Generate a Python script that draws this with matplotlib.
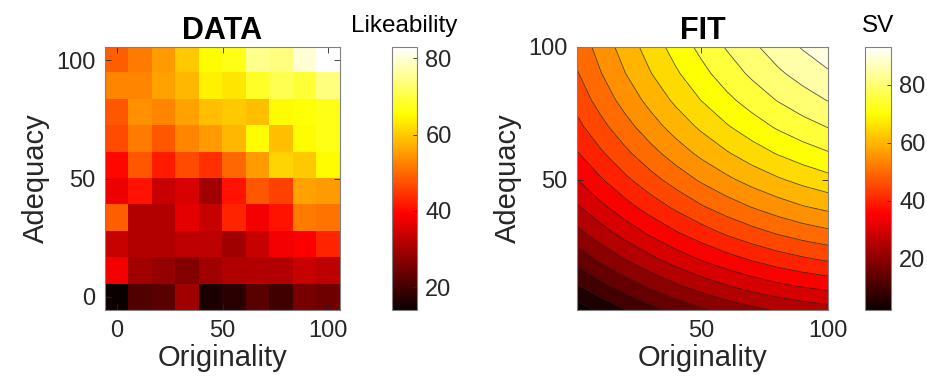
import numpy as np
import matplotlib
matplotlib.use("Agg")
import matplotlib.pyplot as plt
from matplotlib import colors as mcolors

plt.rcParams['font.family'] = ['Liberation Sans', 'DejaVu Sans']

# ---------------- DATA panel (binned behavioural ratings) ----------------
originality_centers = [0, 11.1, 22.2, 33.3, 44.4, 55.6, 66.7, 77.8, 88.9, 100]
adequacy_centers = [0, 11.1, 22.2, 33.3, 44.4, 55.6, 66.7, 77.8, 88.9, 100]
# rows: adequacy from 0 (bottom) to 100 (top); columns: originality 0 -> 100
likeability = [
    [14, 21.5, 22.5, 29.5, 16, 17.5, 22.5, 19.5, 25.5, 24.5],
    [38, 29.5, 28.5, 26.5, 29.5, 31.5, 31.5, 31.5, 33.5, 32.5],
    [33.5, 31.5, 31.5, 32.5, 32.5, 29.5, 33.5, 38, 39, 43],
    [49, 31.5, 31.5, 36.5, 33.5, 43, 38, 41, 52, 51],
    [37.5, 41, 33.5, 35.5, 29.5, 41, 48, 46, 56, 55],
    [40, 48, 42, 47, 44, 50, 55, 61, 60, 65],
    [47, 52, 48, 53, 55, 58, 65, 59, 65, 67],
    [48, 54, 53, 56, 59, 60, 59, 65, 66, 67],
    [53, 53, 56, 58, 64, 63, 68, 71, 69, 74],
    [49, 52, 55, 60, 65, 67, 75, 74, 80, 83],
]

# ---------------- FIT panel (model surface) ----------------
fit_originality = [1, 10, 20, 30, 40, 50, 60, 70, 80, 90, 100]
fit_adequacy = [1, 10, 20, 30, 40, 50, 60, 70, 80, 90, 100]
# rows: adequacy 1 -> 100; columns: originality 1 -> 100
sv = [
    [2.3, 6.0, 9.8, 13.3, 16.5, 19.2, 21.7, 23.8, 25.5, 26.9, 28.0],
    [9.5, 13.3, 17.3, 20.9, 24.2, 27.1, 29.7, 32.0, 33.9, 35.4, 36.6],
    [16.8, 20.8, 25.0, 28.7, 32.2, 35.3, 38.0, 40.4, 42.5, 44.2, 45.6],
    [23.5, 27.7, 31.9, 35.9, 39.5, 42.7, 45.7, 48.2, 50.4, 52.3, 53.8],
    [29.5, 33.8, 38.3, 42.4, 46.1, 49.6, 52.6, 55.3, 57.7, 59.8, 61.4],
    [34.9, 39.3, 43.9, 48.2, 52.1, 55.7, 58.9, 61.8, 64.3, 66.5, 68.4],
    [39.6, 44.1, 48.9, 53.3, 57.4, 61.2, 64.5, 67.6, 70.3, 72.6, 74.6],
    [43.6, 48.3, 53.2, 57.8, 62.1, 65.9, 69.5, 72.7, 75.6, 78.1, 80.2],
    [46.9, 51.8, 56.9, 61.6, 66.0, 70.1, 73.8, 77.1, 80.2, 82.8, 85.2],
    [49.6, 54.6, 59.9, 64.8, 69.3, 73.5, 77.4, 80.9, 84.1, 86.9, 89.4],
    [51.6, 56.8, 62.2, 67.2, 72.0, 76.3, 80.4, 84.0, 87.4, 90.4, 93.0],
]
contour_levels = [5, 10, 15, 20, 25, 30, 35, 40, 45, 50, 55, 60, 65, 70, 75, 80, 85, 90]

data_ticks = [0, 50, 100]
fit_ticks = [50, 100]
cbar_ticks = [20, 40, 60, 80]

TXT = '#262626'
W, H = 928, 390
fig = plt.figure(figsize=(W / 100, H / 100), dpi=100)


def frac(x0, y0, x1, y1):
    return [x0 / W, 1 - y1 / H, (x1 - x0) / W, (y1 - y0) / H]


cmap = plt.get_cmap('hot')
TICK_FS = 17
LABEL_FS = 21
TITLE_FS = 22

# ---- left heatmap ----
ax1 = fig.add_axes(frac(105, 47, 340, 310))
L = np.array(likeability)
oc = np.array(originality_centers)
ac = np.array(adequacy_centers)
hx = (oc[1] - oc[0]) / 2
hy = (ac[1] - ac[0]) / 2
im = ax1.imshow(L, cmap=cmap, origin='lower', aspect='auto', interpolation='nearest',
                extent=[oc[0] - hx, oc[-1] + hx, ac[0] - hy, ac[-1] + hy],
                vmin=L.min(), vmax=L.max())
ax1.set_xticks(data_ticks)
ax1.set_yticks(data_ticks)
ax1.set_xlabel('Originality', fontsize=LABEL_FS, color=TXT, labelpad=2)
ax1.set_ylabel('Adequacy', fontsize=LABEL_FS, color=TXT, labelpad=4)
ax1.set_title('DATA', fontsize=TITLE_FS, fontweight='bold', pad=6)

cax1 = fig.add_axes(frac(392, 47, 417, 310))
cb1 = fig.colorbar(im, cax=cax1, ticks=cbar_ticks)
cax1.set_title('Likeability', fontsize=17.5, color='black', pad=11)

# ---- right contour fit ----
ax2 = fig.add_axes(frac(577, 47, 828, 310))
S = np.array(sv)
norm2 = mcolors.Normalize(vmin=S.min(), vmax=S.max())
lv = [S.min()] + contour_levels + [S.max() + 1e-6]
band_colors = [cmap(norm2(v)) for v in lv[:-1]]
ax2.contourf(fit_originality, fit_adequacy, S, levels=lv, colors=band_colors)
ax2.contour(fit_originality, fit_adequacy, S, levels=contour_levels,
            colors='#1a1a1a', linewidths=0.6, alpha=0.75)
ax2.set_xlim(fit_originality[0], fit_originality[-1])
ax2.set_ylim(fit_adequacy[0], fit_adequacy[-1])
ax2.set_xticks(fit_ticks)
ax2.set_yticks(fit_ticks)
ax2.set_xlabel('Originality', fontsize=LABEL_FS, color=TXT, labelpad=2)
ax2.set_ylabel('Adequacy', fontsize=LABEL_FS, color=TXT, labelpad=4)
ax2.set_title('FIT', fontsize=TITLE_FS, fontweight='bold', pad=6)

cax2 = fig.add_axes(frac(865, 47, 891, 310))
sm = plt.cm.ScalarMappable(norm=norm2, cmap=cmap)
cb2 = fig.colorbar(sm, cax=cax2, ticks=cbar_ticks)
cax2.set_title('SV', fontsize=17.5, color='black', pad=11)

for ax in (ax1, ax2):
    ax.tick_params(direction='in', top=True, right=True, length=4, width=0.6,
                   labelsize=TICK_FS, labelcolor=TXT, color=TXT, pad=7)
    for s in ax.spines.values():
        s.set_color('#808080')
        s.set_linewidth(0.8)
for cb in (cb1, cb2):
    cb.ax.tick_params(direction='in', length=3, width=0.6, labelsize=TICK_FS,
                      labelcolor=TXT, color=TXT, pad=6)
    cb.outline.set_edgecolor('#808080')
    cb.outline.set_linewidth(0.8)

fig.savefig('out.png', dpi=100)
